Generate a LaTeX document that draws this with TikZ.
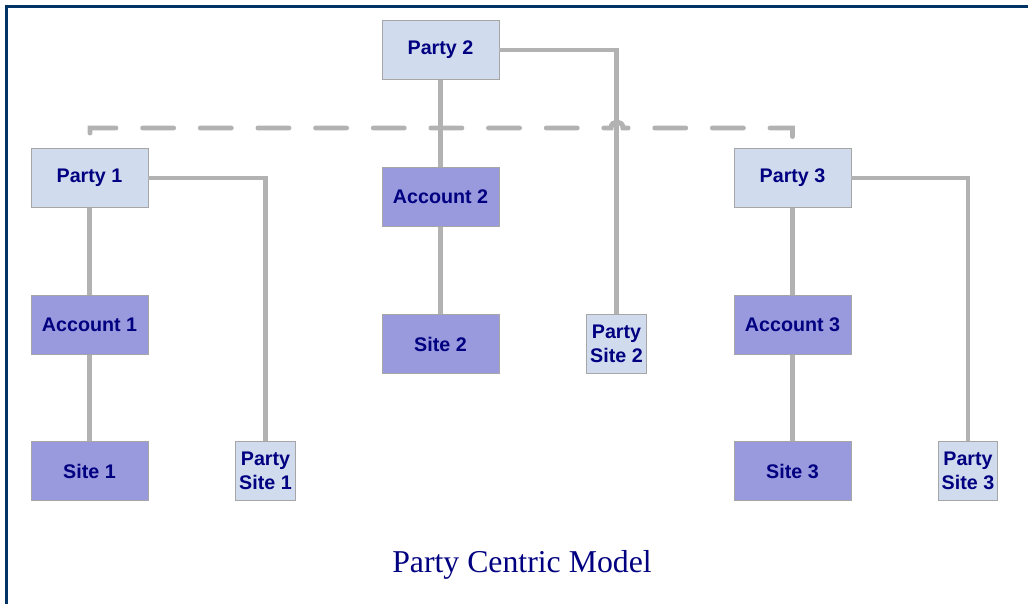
\documentclass[tikz,border=0pt]{standalone}
\usepackage{fontspec}
\setmainfont{Liberation Serif}
\setsansfont{Liberation Sans}
\definecolor{navy}{RGB}{0,0,128}
\definecolor{frameblue}{RGB}{0,51,102}
\definecolor{lightfill}{RGB}{208,220,238}
\definecolor{darkfill}{RGB}{153,153,221}
\definecolor{boxgray}{RGB}{166,166,166}
\definecolor{linkgray}{RGB}{178,178,178}
\begin{document}
\begin{tikzpicture}[x=0.025cm,y=-0.025cm,
	box/.style={draw=boxgray,line width=0.7pt,minimum width=83.2pt,minimum height=41.3pt,inner sep=1pt,font=\sffamily\bfseries\fontsize{14}{17}\selectfont,text=navy,align=center},
	lightbox/.style={box,fill=lightfill},
	darkbox/.style={box,fill=darkfill},
	narrowbox/.style={lightbox,minimum width=42pt},
	link/.style={draw=linkgray,line width=3.5pt},
	dashlink/.style={link,line cap=round,dash pattern=on 22pt off 19pt}]

	% invisible corners
	\useasboundingbox (0,0) rectangle (1028,604);

	% frame
	\draw[frameblue,line width=2.6pt] (6.5,604) -- (6.5,6.5) -- (1028,6.5);

	% parties
	\node[lightbox] (party2) at (440.5,50) {Party 2};
	\node[lightbox] (party1) at (89.5,178) {Party 1};
	\node[lightbox] (party3) at (792.5,178) {Party 3};

	% accounts
	\node[darkbox] (acct2) at (440.5,197) {Account 2};
	\node[darkbox] (acct1) at (89.5,325) {Account 1};
	\node[darkbox] (acct3) at (792.5,325) {Account 3};

	% sites
	\node[darkbox] (site2) at (440.5,344) {Site 2};
	\node[darkbox] (site1) at (89.5,471) {Site 1};
	\node[darkbox] (site3) at (792.5,471) {Site 3};

	% party sites
	\node[narrowbox] (psite2) at (616.5,344) {Party\\Site 2};
	\node[narrowbox] (psite1) at (265.5,471) {Party\\Site 1};
	\node[narrowbox] (psite3) at (968,471) {Party\\Site 3};

	% dashed link, hops over party 2 line
	\coordinate (dashstart) at (90,133);
	\draw[dashlink] (dashstart) |- (611,128) .. controls (611,120) and (623,120) .. (623,128) -- (792.5,128) -- (party3.north);

	% links
	\draw[link] (party2) -| (psite2);
	\draw[link] (party2) -- (acct2);
	\draw[link] (acct2) -- (site2);
	\draw[link] (party1) -| (psite1);
	\draw[link] (party1) -- (acct1);
	\draw[link] (acct1) -- (site1);
	\draw[link] (party3) -| (psite3);
	\draw[link] (party3) -- (acct3);
	\draw[link] (acct3) -- (site3);

	% caption
	\node[text=navy,font=\fontsize{22.6}{27}\selectfont,anchor=base] (caption) at (522,572) {Party Centric Model};

\end{tikzpicture}
\end{document}
